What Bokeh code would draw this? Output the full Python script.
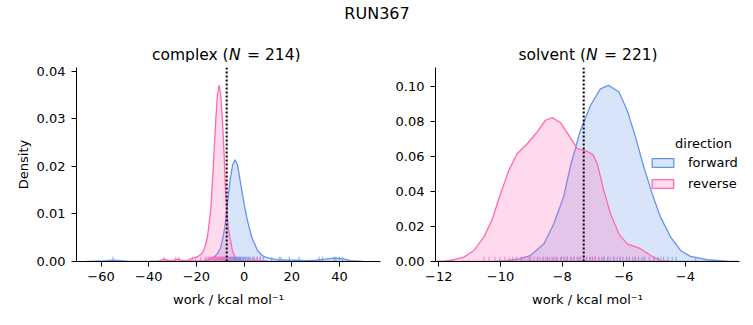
from bokeh.plotting import figure
from bokeh.layouts import column, row
from bokeh.models import (Range1d, Label, Span, FixedTicker, NumeralTickFormatter,
                          Legend, LegendItem, ColumnDataSource)
from bokeh.embed import file_html
from bokeh.resources import INLINE

FONT = "DejaVu Sans"
C_FWD = "#6495ED"
C_REV = "#FF69B4"

suptitle = "RUN367"
directions = ["forward", "reverse"]
phases = ["complex", "solvent"]
n_samples = [214, 221]
dg_estimate_complex = -7.3
dg_estimate_solvent = -7.3

# ---- complex: KDE curves ----
cx_fwd_x = [-66, -62, -58, -55, -52, -49, -45, -35, -25, -18, -15, -12.6, -11, -9.8, -8.9,
            -8.1, -7.0, -5.9, -4.8, -3.8, -2.8, -1.7, 0.0, 1.4, 3.2, 5.6, 7.5, 9.1, 11.2,
            14, 18, 22, 26, 30, 34, 37.8, 41, 44.8, 48, 50]
cx_fwd_y = [0.0, 0.0001, 0.0002, 0.0003, 0.0002, 0.0001, 0.0, 0.0, 0.0, 0.0001, 0.0004,
            0.0009, 0.0018, 0.0030, 0.0050, 0.0072, 0.0121, 0.0171, 0.0203, 0.0214, 0.0204,
            0.0171, 0.0121, 0.0086, 0.0051, 0.0023, 0.0013, 0.0009, 0.0006, 0.0004, 0.0003,
            0.0003, 0.0002, 0.0003, 0.0005, 0.0007, 0.0006, 0.0002, 0.0001, 0.0]
cx_rev_x = [-40, -36, -33.5, -31.5, -29.5, -28, -26.5, -24, -21.5, -19.5, -17.5, -16.5,
            -15.4, -14.0, -13.0, -11.9, -11.2, -10.5, -9.8, -9.1, -8.4, -7.7, -6.5, -4.9,
            -3.5, -1, 2, 5, 7, 10]
cx_rev_y = [0.0, 0.0001, 0.0005, 0.0002, 0.0003, 0.0005, 0.0003, 0.0002, 0.0007, 0.0010,
            0.0018, 0.0030, 0.0051, 0.0107, 0.0192, 0.0297, 0.0350, 0.0371, 0.0350, 0.0297,
            0.0227, 0.0135, 0.0065, 0.0023, 0.0006, 0.0002, 0.0002, 0.0003, 0.0002, 0.0]

# ---- solvent: KDE curves ----
sv_fwd_x = [-10.2, -9.78, -9.4, -9.03, -8.59, -8.27, -7.95, -7.73, -7.41, -7.08, -6.76,
            -6.49, -6.16, -5.89, -5.62, -5.35, -5.08, -4.81, -4.48, -4.16, -3.84, -3.29,
            -2.65, -2.3]
sv_fwd_y = [0.0, 0.0006, 0.0015, 0.0034, 0.0101, 0.0215, 0.0370, 0.0545, 0.0745, 0.0890,
            0.0985, 0.1005, 0.0967, 0.0863, 0.0710, 0.0539, 0.0387, 0.0253, 0.0139, 0.0063,
            0.0029, 0.0010, 0.0002, 0.0]
sv_rev_x = [-12.1, -11.8, -11.5, -11.19, -10.86, -10.54, -10.27, -10.0, -9.73, -9.46, -9.13,
            -8.81, -8.54, -8.32, -8.05, -7.78, -7.51, -7.19, -7.0, -6.86, -6.65, -6.43,
            -6.16, -5.89, -5.46, -5.13, -4.81, -4.5]
sv_rev_y = [0.0, 0.0003, 0.0010, 0.0025, 0.0063, 0.0139, 0.0240, 0.0385, 0.0520, 0.0615,
            0.0672, 0.0739, 0.0806, 0.0821, 0.0792, 0.0720, 0.0644, 0.0628, 0.0610, 0.0558,
            0.0406, 0.0272, 0.0158, 0.0101, 0.0073, 0.0034, 0.0006, 0.0]

# ---- rug samples (work values) ----
rug_cx_fwd = [-55.0, -12.4, -11.1, -10.3, -9.7, -9.2, -8.6, -8.2, -7.8, -7.4, -7.1, -6.7,
              -6.35, -6.1, -5.75, -5.5, -5.2, -4.85, -4.6, -4.3, -3.95, -3.7, -3.4, -3.05,
              -2.8, -2.45, -2.2, -1.85, -1.6, -1.25, -0.9, -0.55, -0.15, 0.35, 0.8, 1.35,
              1.95, 2.6, 3.45, 4.3, 5.5, 6.8, 8.1, 11.6, 14.7, 15.4, 18.9, 23.1, 31.5, 32.9,
              37.8, 38.5, 39.9, 41.3]
rug_cx_rev = [-33.6, -28.7, -27.3, -21.7, -20.3, -18.2, -16.3, -15.6, -15.0, -14.6, -14.1,
              -13.8, -13.35, -13.0, -12.7, -12.45, -12.1, -11.85, -11.5, -11.25, -10.95,
              -10.6, -10.35, -10.05, -9.75, -9.4, -9.15, -8.8, -8.55, -8.2, -7.9, -7.55,
              -7.1, -6.65, -6.0, -5.2, -4.1, -2.5, 0.5, 2.1, 4.0, 5.5, 6.6]
rug_sv_fwd = [-9.3, -9.05, -8.8, -8.62, -8.47, -8.3, -8.18, -8.02, -7.91, -7.83, -7.7,
              -7.61, -7.49, -7.42, -7.31, -7.22, -7.1, -7.02, -6.93, -6.81, -6.72, -6.63,
              -6.52, -6.44, -6.33, -6.21, -6.12, -6.03, -5.91, -5.82, -5.71, -5.63, -5.52,
              -5.41, -5.33, -5.17, -5.02, -4.88, -4.71, -4.57, -4.43, -4.3, -3.67]
rug_sv_rev = [-10.54, -10.37, -10.18, -10.02, -9.86, -9.72, -9.61, -9.47, -9.34, -9.22,
              -9.11, -9.02, -8.91, -8.79, -8.71, -8.6, -8.52, -8.41, -8.33, -8.24, -8.16,
              -8.05, -7.96, -7.84, -7.73, -7.62, -7.51, -7.42, -7.31, -7.2, -7.09, -7.01,
              -6.92, -6.81, -6.66, -6.52, -6.31, -6.12, -5.91, -5.62, -5.33, -5.02, -4.8]

cx_xticks = [-60, -40, -20, 0, 20, 40]
cx_xlabels = ["\u221260", "\u221240", "\u221220", "0", "20", "40"]
cx_yticks = [0.0, 0.01, 0.02, 0.03, 0.04]
sv_xticks = [-12, -10, -8, -6, -4]
sv_xlabels = ["\u221212", "\u221210", "\u22128", "\u22126", "\u22124"]
sv_yticks = [0.0, 0.02, 0.04, 0.06, 0.08, 0.10]

x_label = "work / kcal mol\u207b\u00b9"


def style(p, xticks, xlabels, yticks):
    p.outline_line_color = None
    p.grid.visible = False
    p.background_fill_color = "white"
    p.border_fill_color = "white"
    p.xaxis.ticker = FixedTicker(ticks=xticks)
    p.xaxis.major_label_overrides = {t: l for t, l in zip(xticks, xlabels)}
    p.yaxis.ticker = FixedTicker(ticks=yticks)
    p.yaxis.formatter = NumeralTickFormatter(format="0.00")
    for ax in p.axis:
        ax.minor_tick_line_color = None
        ax.major_tick_in = 0
        ax.major_tick_out = 5
        ax.major_tick_line_color = "black"
        ax.axis_line_color = "black"
        ax.major_label_text_font = FONT
        ax.major_label_text_font_size = "13px"
        ax.major_label_text_color = "black"
        ax.axis_label_text_font = FONT
        ax.axis_label_text_font_size = "13px"
        ax.axis_label_text_font_style = "normal"
        ax.axis_label_text_color = "black"
    p.xaxis.major_label_standoff = 5
    p.yaxis.major_label_standoff = 6
    p.xaxis.axis_label_standoff = 8
    p.yaxis.axis_label_standoff = 3
    p.xaxis.axis_label = x_label


def draw_kde(p, x, y, color):
    src = ColumnDataSource(dict(x=x, y=y))
    return p.patch(x="x", y="y", source=src, fill_color=color, fill_alpha=0.25,
                   line_color=color, line_width=1.3)


def draw_rug(p, vals, color, h):
    p.segment(x0=vals, y0=[0] * len(vals), x1=vals, y1=[h] * len(vals),
              line_color=color, line_alpha=0.7, line_width=1.2)


def add_text(p, text, x, y, size, style_="normal", align="left"):
    p.add_layout(Label(x=x, y=y, x_units="screen", y_units="screen", text=text,
                       text_font=FONT, text_font_size=size, text_font_style=style_,
                       text_color="black", text_baseline="alphabetic", text_align=align))


# ---- top band: suptitle and panel titles ----
ptop = figure(width=753, height=62, x_axis_location=None, y_axis_location=None,
              min_border=0, toolbar_location=None, output_backend="svg",
              x_range=Range1d(0, 1), y_range=Range1d(0, 1))
ptop.outline_line_color = None
ptop.grid.visible = False
add_text(ptop, suptitle, 376.5, 48.7, "16px", align="center")
add_text(ptop, phases[0] + " (", 151.5, 8, "15.5px")
add_text(ptop, "N", 228.4, 8, "15.5px", "italic")
add_text(ptop, "= %d)" % n_samples[0], 246.5, 8, "15.5px")
add_text(ptop, phases[1] + " (", 518, 8, "15.5px")
add_text(ptop, "N", 585.5, 8, "15.5px", "italic")
add_text(ptop, "= %d)" % n_samples[1], 603.6, 8, "15.5px")

# ---- complex ----
cx_ymax = 0.04078
p1 = figure(width=390, height=263, x_range=Range1d(-70.3, 57.2), y_range=Range1d(0, cx_ymax),
            output_backend="svg", toolbar_location=None,
            min_border_left=76, min_border_right=10, min_border_top=5, min_border_bottom=64)
style(p1, cx_xticks, cx_xlabels, cx_yticks)
p1.yaxis.axis_label = "Density"
draw_kde(p1, cx_fwd_x, cx_fwd_y, C_FWD)
draw_kde(p1, cx_rev_x, cx_rev_y, C_REV)
draw_rug(p1, rug_cx_fwd, C_FWD, 0.025 * cx_ymax)
draw_rug(p1, rug_cx_rev, C_REV, 0.025 * cx_ymax)
p1.add_layout(Span(location=dg_estimate_complex, dimension="height", line_color="black",
                   line_dash="2 2", line_width=2))

# ---- solvent ----
sv_ymax = 0.1107
p2 = figure(width=363, height=263, x_range=Range1d(-12.107, -2.247), y_range=Range1d(0, sv_ymax),
            output_backend="svg", toolbar_location=None,
            min_border_left=45, min_border_right=14, min_border_top=5, min_border_bottom=64)
style(p2, sv_xticks, sv_xlabels, sv_yticks)
r_fwd = draw_kde(p2, sv_fwd_x, sv_fwd_y, C_FWD)
r_rev = draw_kde(p2, sv_rev_x, sv_rev_y, C_REV)
draw_rug(p2, rug_sv_fwd, C_FWD, 0.025 * sv_ymax)
draw_rug(p2, rug_sv_rev, C_REV, 0.025 * sv_ymax)
p2.add_layout(Span(location=dg_estimate_solvent, dimension="height", line_color="black",
                   line_dash="2 2", line_width=2))

legend = Legend(items=[LegendItem(label=directions[0], renderers=[r_fwd]),
                       LegendItem(label=directions[1], renderers=[r_rev])],
                location=(214, 70), background_fill_alpha=0, border_line_alpha=0,
                padding=0, margin=0, glyph_width=27, glyph_height=11, label_height=11,
                label_standoff=12, spacing=6, label_text_font=FONT,
                label_text_font_size="13px", label_text_color="black")
p2.add_layout(legend)
add_text(p2, "direction", 268, 118, "13px", align="center")

layout = column(ptop, row(p1, p2))
open("out.html", "w").write(file_html(layout, INLINE))
